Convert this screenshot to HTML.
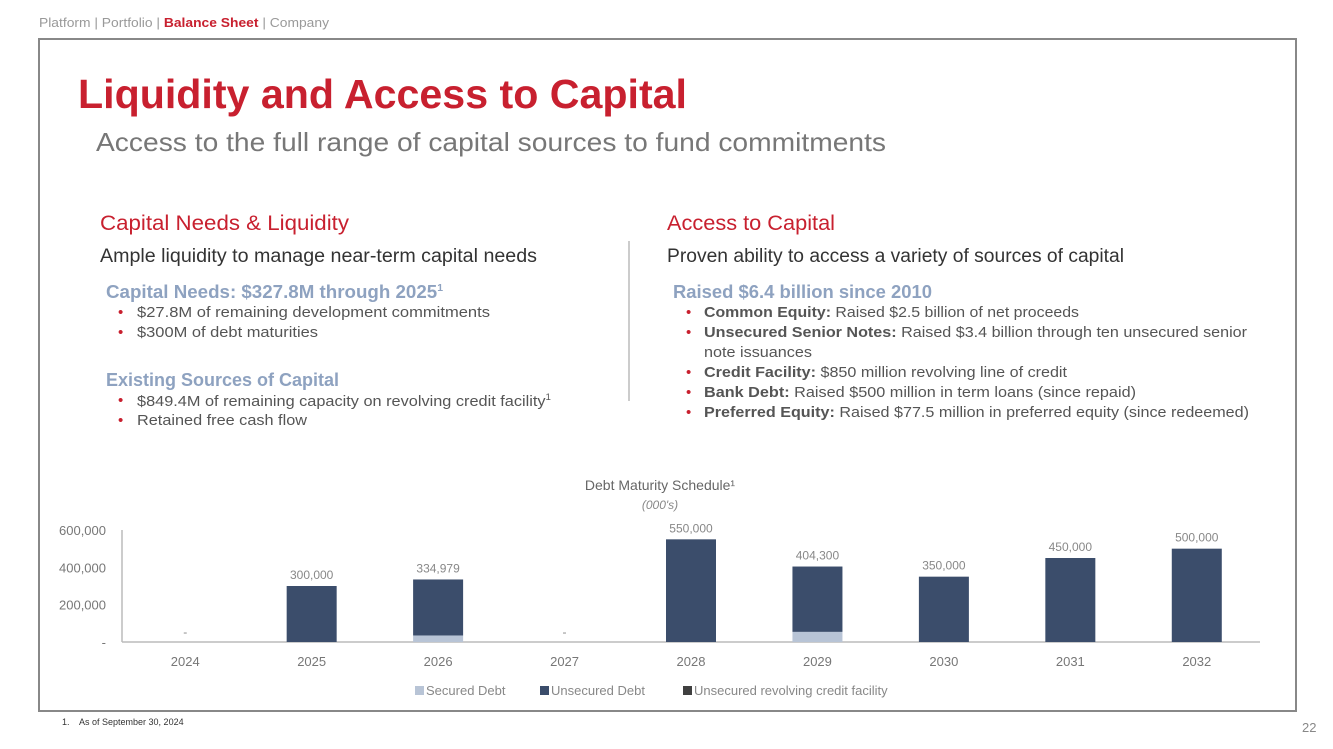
<!DOCTYPE html>
<html><head><meta charset="utf-8"><style>
body{margin:0;width:1333px;height:749px;background:#fff;position:relative;overflow:hidden;font-family:"Liberation Sans",sans-serif}
.t{position:absolute;white-space:nowrap;transform-origin:0 0;line-height:1}
.red{color:#c8202f}.blue{color:#8ea2c0;font-weight:bold}
.b{position:absolute;color:#c8202f;font-size:15px}
.bl{font-size:15px;color:#555}
</style></head><body>
<div class="t" data-w="290" style="left:39px;top:16px;font-size:13px;color:#999">Platform | Portfolio | <b class="red">Balance Sheet</b> | Company</div>
<div style="position:absolute;left:38px;top:38px;width:1255px;height:670px;border:2px solid #888"></div>
<div class="t red" data-w="609" style="left:78px;top:74px;font-size:41px;font-weight:bold">Liquidity and Access to Capital</div>
<div class="t" data-w="790" style="left:96px;top:129px;font-size:26px;color:#777">Access to the full range of capital sources to fund commitments</div>

<div class="t red" data-w="249" style="left:100px;top:213px;font-size:21px">Capital Needs &amp; Liquidity</div>
<div class="t" data-w="437" style="left:100px;top:247px;font-size:19px;color:#333">Ample liquidity to manage near-term capital needs</div>
<div class="t blue" data-w="337" style="left:106px;top:283px;font-size:18px">Capital Needs: $327.8M through 2025<sup style="font-size:10px">1</sup></div>
<div class="b" style="left:118px;top:304px">•</div><div class="t bl" data-w="353" style="left:137px;top:305px">$27.8M of remaining development commitments</div>
<div class="b" style="left:118px;top:324px">•</div><div class="t bl" data-w="181" style="left:137px;top:325px">$300M of debt maturities</div>
<div class="t blue" data-w="233" style="left:106px;top:371px;font-size:18px">Existing Sources of Capital</div>
<div class="b" style="left:118px;top:392px">•</div><div class="t bl" data-w="414" style="left:137px;top:393px">$849.4M of remaining capacity on revolving credit facility<sup style="font-size:9px">1</sup></div>
<div class="b" style="left:118px;top:412px">•</div><div class="t bl" data-w="170" style="left:137px;top:413px">Retained free cash flow</div>

<div style="position:absolute;left:628px;top:241px;width:2px;height:160px;background:#ccc"></div>

<div class="t red" data-w="168" style="left:667px;top:213px;font-size:21px">Access to Capital</div>
<div class="t" data-w="457" style="left:667px;top:247px;font-size:19px;color:#333">Proven ability to access a variety of sources of capital</div>
<div class="t blue" data-w="259" style="left:673px;top:283px;font-size:18px">Raised $6.4 billion since 2010</div>
<div class="b" style="left:686px;top:304px">•</div><div class="t bl" data-w="375" style="left:704px;top:305px"><b>Common Equity:</b> Raised $2.5 billion of net proceeds</div>
<div class="b" style="left:686px;top:324px">•</div><div class="t bl" data-w="543" style="left:704px;top:325px"><b>Unsecured Senior Notes:</b> Raised $3.4 billion through ten unsecured senior</div>
<div class="t bl" data-w="108" style="left:704px;top:345px">note issuances</div>
<div class="b" style="left:686px;top:364px">•</div><div class="t bl" data-w="363" style="left:704px;top:365px"><b>Credit Facility:</b> $850 million revolving line of credit</div>
<div class="b" style="left:686px;top:384px">•</div><div class="t bl" data-w="432" style="left:704px;top:385px"><b>Bank Debt:</b> Raised $500 million in term loans (since repaid)</div>
<div class="b" style="left:686px;top:404px">•</div><div class="t bl" data-w="545" style="left:704px;top:405px"><b>Preferred Equity:</b> Raised $77.5 million in preferred equity (since redeemed)</div>

<svg id="chart" width="1333" height="749" style="position:absolute;left:0;top:0" font-family="Liberation Sans, sans-serif"></svg>

<div class="t" style="left:62px;top:718px;font-size:9px;color:#333">1.&nbsp;&nbsp;&nbsp; As of September 30, 2024</div>
<div class="t" style="left:1302px;top:721px;font-size:13px;color:#888">22</div>

<script>
const categories=["2024","2025","2026","2027","2028","2029","2030","2031","2032"];
const securedDebt=[0,0,34979,0,0,54300,0,0,0];
const unsecuredDebt=[0,300000,300000,0,550000,350000,350000,450000,500000];
const revolvingCredit=[0,0,0,0,0,0,0,0,0];
const yTicks=[0,200000,400000,600000];
const yTickLabels=["-","200,000","400,000","600,000"];

const NS="http://www.w3.org/2000/svg";
const svg=document.getElementById('chart');
const X0=122,X1=1260,Y0=642,Y1=530,YMAX=600000;
const step=(X1-X0)/categories.length;
const xc=i=>X0+step*(i+0.5);
const y=v=>Y0-(v/YMAX)*(Y0-Y1);
const bw=50;
function mk(tag,attrs,text){const e=document.createElementNS(NS,tag);for(const k in attrs)e.setAttribute(k,attrs[k]);if(text!==undefined)e.textContent=text;svg.appendChild(e);return e;}

let e;
e=mk('text',{x:660,y:490,'text-anchor':'middle','font-size':14,fill:'#666'},'Debt Maturity Schedule¹');


e=mk('text',{x:660,y:509,'text-anchor':'middle','font-size':12,'font-style':'italic',fill:'#888'},"(000's)");



yTicks.forEach((t,i)=>{
  const el=mk('text',{x:106,y:y(t)+5,'text-anchor':'end','font-size':13,fill:'#777'},yTickLabels[i]);
  
  
});
e=mk('line',{x1:X0,y1:Y1,x2:X0,y2:Y0,stroke:'#bbb','stroke-width':1.5});


e=mk('line',{x1:X0,y1:Y0,x2:X1,y2:Y0,stroke:'#bbb','stroke-width':1.5});



categories.forEach((c,i)=>{
  const cx=xc(i);
  let base=0;
  [[securedDebt,'#b8c4d6','secured'],[unsecuredDebt,'#3b4d6b','unsecured'],[revolvingCredit,'#404040','revolver']].forEach(([arr,col,nm])=>{
    const v=arr[i];
    if(v>0){
      const r=mk('rect',{x:cx-bw/2,y:y(base+v),width:bw,height:y(base)-y(base+v),fill:col});
      
      
    }
    base+=v;
  });
  const total=securedDebt[i]+unsecuredDebt[i]+revolvingCredit[i];
  const lbl=mk('text',{x:cx,y:total>0?y(total)-7:Y0-6,'text-anchor':'middle','font-size':12,fill:'#888'},total>0?total.toLocaleString('en-US'):'-');
  
  
  const xl=mk('text',{x:cx,y:666,'text-anchor':'middle','font-size':13,fill:'#777'},c);
  
  
});

[[415,'#b8c4d6','Secured Debt'],[540,'#3b4d6b','Unsecured Debt'],[683,'#404040','Unsecured revolving credit facility']].forEach(([lx,col,txt])=>{
  const g=document.createElementNS(NS,'g');
  
  
  const r=document.createElementNS(NS,'rect');r.setAttribute('x',lx);r.setAttribute('y',686);r.setAttribute('width',9);r.setAttribute('height',9);r.setAttribute('fill',col);
  const t=document.createElementNS(NS,'text');t.setAttribute('x',lx+11);t.setAttribute('y',695);t.setAttribute('font-size',13);t.setAttribute('fill','#888');t.textContent=txt;
  g.appendChild(r);g.appendChild(t);svg.appendChild(g);
});

document.querySelectorAll('[data-w]').forEach(el=>{
  const w=el.getBoundingClientRect().width;const tw=+el.getAttribute('data-w');
  if(w>0)el.style.transform='scaleX('+(tw/w)+')';
});
</script>
</body></html>
